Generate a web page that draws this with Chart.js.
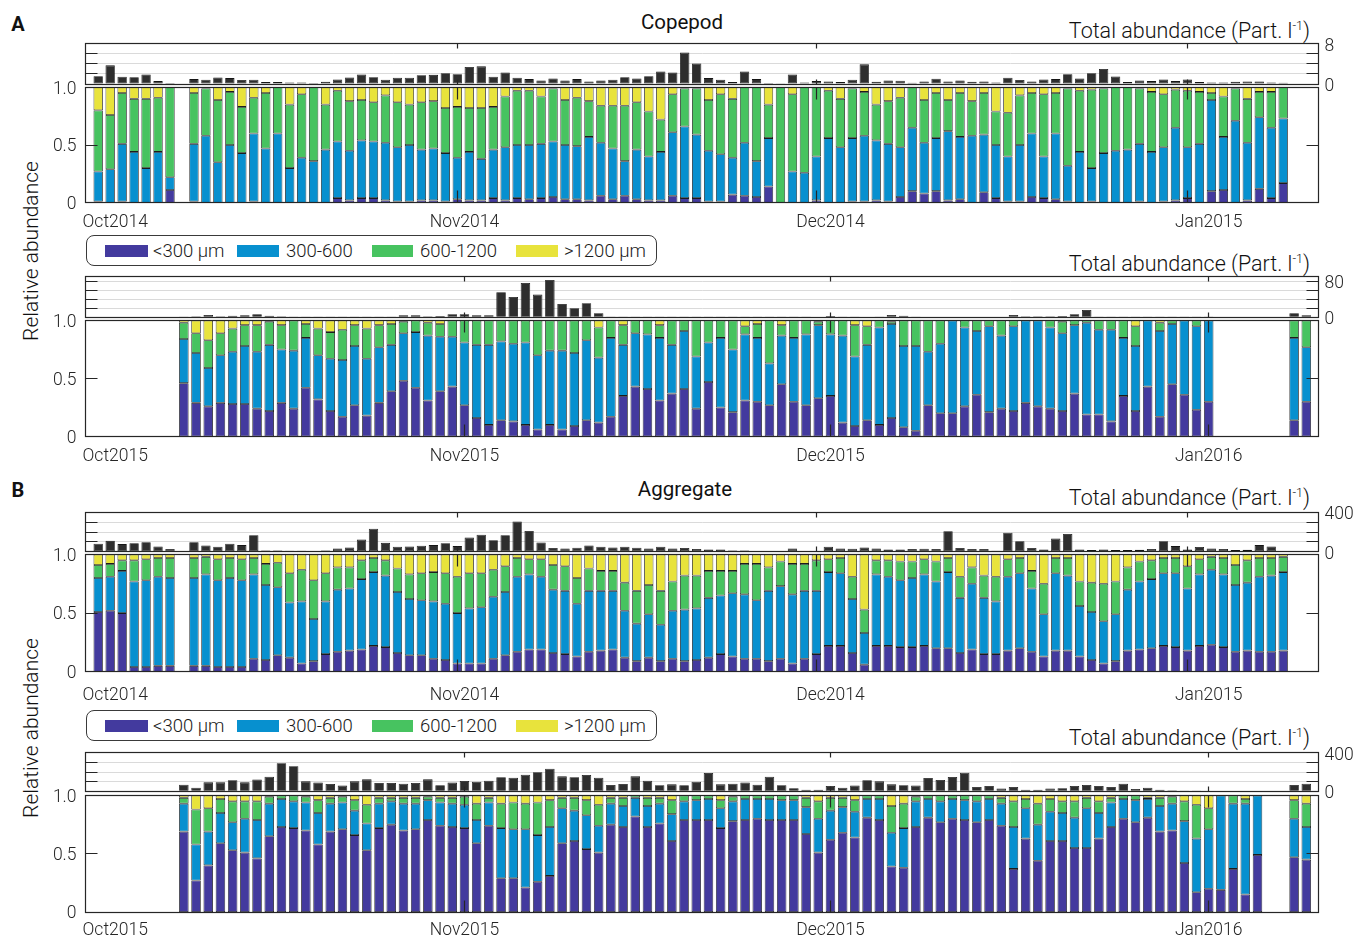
<!DOCTYPE html>
<html>
<head>
<meta charset="utf-8">
<title>Copepod and aggregate size structure</title>
<script src="https://cdn.jsdelivr.net/npm/chart.js@4.4.1/dist/chart.umd.min.js"></script>
<style>
  html, body { margin: 0; padding: 0; background: #fff; }
  body { position: relative; width: 1356px; height: 936px; overflow: hidden; font-family: Roboto, "Noto Sans", sans-serif; color: #111; }
  canvas { position: absolute; left: 0; }
  .txt { position: absolute; white-space: nowrap; line-height: 1; }
  .panel-id { font-weight: 700; font-size: 20px; transform: translate(-50%, -50%); }
  .title { font-weight: 400; font-size: 20.5px; transform: translate(-50%, -50%); }
  .total-lbl { font-weight: 300; font-size: 21.5px; transform: translateY(-50%); right: 46px; }
  .total-lbl sup { font-size: 12.5px; vertical-align: 8px; line-height: 0; }
  .ylab { font-weight: 300; font-size: 21px; transform: translate(-50%, -50%) rotate(-90deg); }
  .legend { position: absolute; border: 1px solid #3a3a3a; border-radius: 8px; box-sizing: border-box; background: #fff; }
  .legend .sw { position: absolute; height: 12px; }
  .legend .lt { position: absolute; font-weight: 300; font-size: 18.5px; line-height: 1; white-space: nowrap; transform: translateY(-50%); color: #1a1a1a; }
</style>
</head>
<body>
<div class="txt panel-id" style="left:18px;top:24px">A</div>
<div class="txt title" style="left:682px;top:22px">Copepod</div>
<div class="txt total-lbl" style="top:30.5px">Total abundance (Part. l<sup>-1</sup>)</div>
<div class="txt total-lbl" style="top:263.5px">Total abundance (Part. l<sup>-1</sup>)</div>
<div class="txt ylab" style="left:31px;top:251px">Relative abundance</div>

<div class="txt panel-id" style="left:18px;top:490px">B</div>
<div class="txt title" style="left:685px;top:489px">Aggregate</div>
<div class="txt total-lbl" style="top:497.5px">Total abundance (Part. l<sup>-1</sup>)</div>
<div class="txt total-lbl" style="top:737.5px">Total abundance (Part. l<sup>-1</sup>)</div>
<div class="txt ylab" style="left:31px;top:728px">Relative abundance</div>

<script>
// ---------- categories ----------
const sizeClasses = ['<300 µm', '300-600', '600-1200', '>1200 µm'];
const monthDays = [0, 31, 61, 92];          // Oct 1, Nov 1, Dec 1, Jan 1 (days since Oct 1)
const months2014 = ['Oct2014', 'Nov2014', 'Dec2014', 'Jan2015'];
const months2015 = ['Oct2015', 'Nov2015', 'Dec2015', 'Jan2016'];

// sampling days (days since Oct 1)
const sampleDays2014 = [1,2,3,4,5,6,7,
  9,10,11,12,13,14,15,16,17,18,19,20,
  21,22,23,24,25,26,27,28,29,30,
  31,32,33,34,35,36,37,38,39,40,
  41,42,43,44,45,46,47,48,49,50,
  51,52,53,54,55,56,57,58,59,60,
  61,62,63,64,65,66,67,68,69,70,
  71,72,73,74,75,76,77,78,79,80,
  81,82,83,84,85,86,87,88,89,90,
  91,92,93,94,95,96,97,98,99,100];
const copDays2015 = [8,9,10,11,12,13,14,15,16,17,18,19,20,
  21,22,23,24,25,26,27,28,29,30,
  31,32,33,34,35,36,37,38,39,40,
  41,42,43,44,45,46,47,48,49,50,
  51,52,53,54,55,56,57,58,59,60,
  61,62,63,64,65,66,67,68,69,70,
  71,72,73,74,75,76,77,78,79,80,
  81,82,83,84,85,86,87,88,89,90,
  91,92,99,100];
const aggDays2015 = [8,9,10,11,12,13,14,15,16,17,18,19,20,
  21,22,23,24,25,26,27,28,29,30,
  31,32,33,34,35,36,37,38,39,40,
  41,42,43,44,45,46,47,48,49,50,
  51,52,53,54,55,56,57,58,59,60,
  61,62,63,64,65,66,67,68,69,70,
  71,72,73,74,75,76,77,78,79,80,
  81,82,83,84,85,86,87,88,89,90,
  91,92,93,94,95,96,99,100];

// ---------- Copepod 2014 ----------
const copLt300_2014 = [.01,0,.01,0,0,0,.11,
  .01,0,0,0,0,.01,0,0,0,0,0,0,
  .04,.02,.04,.04,.02,.01,.01,.02,.02,.01,
  .03,.02,.02,.04,.02,.04,.03,.04,.05,.03,
  .03,.02,.06,.03,.06,.03,.02,.02,.06,.04,
  .04,.01,.01,.07,.06,.05,.14,0,0,0,
  .02,0,0,.01,.01,.02,.01,.05,.10,.08,
  .10,.02,.03,0,.09,.04,.01,.01,.05,.04,
  .03,.01,0,.01,0,0,0,.01,0,.01,
  .02,.04,0,.10,.11,0,.02,.12,.04,.17];
const cop300_600_2014 = [.26,.29,.50,.44,.30,.44,.11,
  .50,.58,.35,.50,.43,.59,.47,.60,.30,.39,.36,.46,
  .49,.43,.50,.49,.50,.47,.49,.44,.45,.42,
  .36,.42,.36,.42,.46,.46,.47,.47,.48,.47,
  .46,.55,.46,.44,.30,.43,.38,.42,.55,.62,
  .55,.44,.41,.32,.46,.31,.42,0,.27,.26,
  .38,.56,.48,.55,.57,.52,.50,.43,.55,.44,
  .46,.60,.54,.58,.50,.46,.39,.49,.55,.36,
  .57,.31,.44,.29,.43,.45,.46,.50,.44,.47,
  .63,.44,.51,.79,.46,.71,.50,.62,.61,.56];
const cop600_1200_2014 = [.53,.47,.44,.46,.60,.47,.78,
  .44,.41,.54,.46,.40,.31,.48,.40,.55,.55,.64,.39,
  .44,.43,.35,.34,.41,.39,.35,.41,.41,.39,
  .44,.38,.44,.37,.44,.47,.47,.41,.46,.39,
  .42,.31,.32,.37,.48,.41,.39,.28,.33,.33,
  .40,.44,.52,.51,.48,.64,.29,1,.67,.74,
  .60,.41,.42,.43,.38,.31,.37,.43,.35,.37,
  .39,.27,.38,.30,.36,.29,.38,.43,.35,.54,
  .35,.67,.53,.68,.56,.55,.54,.48,.52,.46,
  .33,.49,.45,.06,.35,.28,.38,.22,.31,.27];
const copGt1200_2014 = [.20,.24,.05,.10,.10,.09,0,
  .05,.01,.11,.04,.17,.09,.05,0,.15,.06,0,.15,
  .03,.12,.11,.13,.07,.13,.15,.13,.12,.18,
  .17,.18,.18,.17,.08,.03,.03,.08,.01,.11,
  .09,.12,.16,.16,.16,.13,.21,.28,.06,.01,
  .01,.11,.06,.10,0,0,.15,0,.06,0,
  0,.03,.10,.01,.04,.15,.12,.09,0,.11,
  .05,.11,.05,.12,.05,.21,.22,.07,.05,.06,
  .05,.01,.03,.02,.01,0,0,.01,.04,.06,
  .02,.03,.04,.05,.08,.01,.10,.04,.04,0];
const copTotal2014 = [1.56,3.7,1.43,1.36,1.88,.58,.2,
  .97,.84,1.3,1.17,.78,.84,.39,.39,.32,.32,.2,.45,
  .9,1.3,1.88,1.36,.84,1.23,1.23,1.75,1.82,2.14,
  1.95,3.38,3.5,1.43,2.27,1.23,.97,.71,1.1,.71,
  .97,.52,.71,.84,1.36,1.1,1.56,2.47,2.27,6.23,
  4.09,1.17,.84,.39,2.47,.97,.2,.13,1.88,.32,
  .58,.52,.39,.84,3.9,.45,.71,.65,.26,.52,
  1.04,.52,.71,.45,.52,.32,1.23,.78,.52,.9,
  .97,1.95,1.1,2.14,2.99,1.49,.39,.71,.58,.9,
  .58,.9,.39,.32,.32,.45,.52,.52,.32,.26];

// ---------- Copepod 2015 ----------
const copLt300_2015 = [.46,.29,.26,.29,.28,.28,.24,.22,.29,.24,.42,.32,.22,
  .17,.27,.18,.29,.39,.48,.42,.31,.39,.43,
  .27,.16,.10,.14,.13,.10,.06,.10,.06,.09,
  .14,.12,.17,.35,.43,.41,.31,.37,.41,.24,
  .47,.25,.21,.31,.30,.27,.45,.30,.27,.33,
  .35,.12,.09,.14,.10,.16,.08,.05,.27,.20,
  .20,.26,.36,.21,.24,.22,.29,.26,.24,.22,
  .37,.19,.19,.13,.35,.22,.43,.17,.45,.36,
  .23,.30,.14,.30];
const cop300_600_2015 = [.38,.43,.33,.41,.45,.50,.49,.57,.46,.50,.43,.38,.45,
  .49,.51,.49,.48,.40,.41,.48,.56,.47,.43,
  .54,.63,.69,.68,.67,.71,.64,.64,.68,.63,
  .69,.56,.68,.44,.46,.47,.54,.42,.50,.45,
  .34,.60,.54,.57,.55,.36,.42,.55,.61,.63,
  .53,.75,.60,.65,.84,.81,.70,.73,.46,.60,
  .80,.68,.55,.74,.63,.73,.71,.74,.70,.67,
  .59,.79,.73,.79,.50,.56,.57,.74,.52,.64,
  .72,.70,.71,.47];
const cop600_1200_2015 = [.14,.17,.24,.19,.20,.18,.23,.20,.21,.26,.12,.23,.23,
  .26,.18,.26,.19,.18,.10,.10,.11,.11,.14,
  .19,.21,.21,.18,.20,.19,.30,.26,.26,.28,
  .17,.26,.15,.17,.11,.12,.11,.21,.09,.31,
  .19,.15,.25,.07,.12,.37,.09,.15,.12,.03,
  .12,.13,.27,.16,.06,.02,.22,.22,.27,.20,
  0,.06,.09,.05,.13,.05,0,0,.06,.10,
  .04,.02,.08,.08,.15,.17,0,.07,.03,0,
  .05,0,.15,.23];
const copGt1200_2015 = [.02,.11,.17,.11,.07,.04,.04,.01,.04,0,.03,.07,.10,
  .08,.04,.07,.04,.03,.01,0,.02,.03,0,
  0,0,0,0,0,0,0,0,0,0,
  0,.06,0,.04,0,0,.04,0,0,0,
  0,0,0,.05,.03,0,.04,0,0,.01,
  0,0,.04,.05,0,.01,0,0,0,0,
  0,0,0,0,0,0,0,0,0,.01,
  0,0,0,0,0,.05,0,.02,0,0,
  0,0,0,0];
const copTotal2015 = [.5,2.2,5.2,2.2,3.7,4.4,6.7,3.7,2.2,1.5,1.5,1.5,1.5,
  1.5,1.5,1.5,1.5,1.5,4.4,4.4,2.2,3,6.7,
  6.7,4.4,4.4,55.6,45.2,76.3,50.4,83,29.6,20,
  31.1,8.9,1.5,1.5,.5,1.5,1.5,1.5,1.5,1.5,
  .5,.5,.5,.5,.5,.5,.5,.5,.5,1,
  3,1.5,1.5,1,.7,5.2,3.7,1.5,1,1,
  1,1,1,1,1,5.2,2.2,2.2,2.2,3,
  6.7,16.3,1.5,1.5,.5,.5,.5,.5,.5,.5,
  .5,.5,8.9,4.4];

// ---------- Aggregate 2014 ----------
const aggLt300_2014 = [.51,.52,.50,.04,.04,.05,.05,
  .05,.05,.04,.04,.04,.11,.10,.14,.12,.07,.09,.15,
  .17,.18,.19,.22,.21,.16,.14,.14,.11,.10,
  .07,.07,.07,.11,.14,.17,.19,.19,.16,.15,
  .13,.17,.18,.19,.12,.09,.12,.09,.11,.09,
  .10,.12,.15,.13,.11,.11,.09,.11,.07,.11,
  .15,.22,.22,.16,.06,.22,.22,.21,.21,.22,
  .20,.20,.16,.19,.15,.15,.18,.20,.17,.13,
  .18,.18,.13,.10,.07,.09,.18,.19,.20,.22,
  .21,.18,.22,.23,.21,.17,.18,.17,.17,.18];
const agg300_600_2014 = [.29,.29,.36,.73,.74,.76,.75,
  .75,.78,.74,.76,.74,.72,.64,.58,.47,.53,.36,.45,
  .53,.53,.60,.63,.61,.52,.48,.47,.49,.48,
  .43,.47,.48,.53,.54,.64,.64,.62,.54,.54,
  .45,.52,.51,.50,.40,.32,.37,.31,.41,.44,
  .44,.51,.50,.54,.55,.50,.60,.62,.59,.58,
  .54,.63,.62,.46,.27,.61,.59,.57,.59,.61,
  .57,.65,.47,.56,.48,.45,.63,.64,.54,.36,
  .66,.64,.43,.41,.36,.40,.52,.58,.59,.62,
  .63,.53,.61,.64,.62,.57,.58,.64,.65,.67];
const agg600_1200_2014 = [.11,.11,.09,.18,.18,.16,.17,
  .17,.15,.18,.17,.18,.14,.18,.21,.25,.27,.33,.24,
  .19,.18,.16,.12,.13,.20,.21,.23,.25,.26,
  .31,.30,.29,.23,.22,.16,.13,.15,.21,.21,
  .22,.19,.17,.17,.24,.28,.25,.29,.25,.29,
  .28,.23,.21,.19,.26,.31,.20,.21,.26,.23,
  .26,.11,.13,.19,.20,.12,.14,.16,.14,.13,
  .17,.12,.18,.14,.19,.21,.15,.13,.15,.26,
  .13,.15,.21,.25,.32,.28,.19,.17,.16,.13,
  .13,.19,.13,.11,.14,.17,.19,.16,.15,.13];
const aggGt1200_2014 = [.09,.08,.05,.05,.04,.03,.03,
  .03,.02,.04,.03,.04,.03,.08,.07,.16,.13,.22,.16,
  .11,.11,.05,.03,.05,.12,.17,.16,.15,.16,
  .19,.16,.16,.13,.10,.03,.04,.04,.09,.10,
  .20,.12,.14,.14,.24,.31,.26,.31,.23,.18,
  .18,.14,.14,.14,.08,.08,.11,.06,.08,.08,
  .05,.04,.03,.19,.47,.05,.05,.06,.06,.04,
  .06,.03,.19,.11,.18,.19,.04,.03,.14,.25,
  .03,.03,.23,.24,.25,.23,.11,.06,.05,.03,
  .03,.10,.04,.02,.03,.09,.05,.03,.03,.02];
const aggTotal2014 = [80,110,77,87,97,53,27,
  97,63,50,80,67,167,13,13,10,10,2,13,
  33,43,123,233,90,50,53,60,67,87,
  57,143,173,117,167,307,210,93,37,33,
  40,63,50,43,50,40,33,50,33,37,
  27,23,23,13,13,7,2,1,33,2,
  2,50,33,30,43,33,23,23,27,30,
  27,207,37,27,27,10,193,107,37,23,
  133,180,23,17,23,17,17,20,27,107,
  57,23,47,33,27,17,20,67,53,7];

// ---------- Aggregate 2015 ----------
const aggLt300_2015 = [.69,.27,.40,.59,.53,.51,.46,.65,.73,.72,.70,.58,.69,
  .71,.66,.53,.72,.75,.70,.71,.79,.74,.73,
  .72,.59,.74,.29,.29,.21,.26,.31,.59,.61,
  .54,.51,.75,.73,.82,.73,.76,.61,.79,.79,
  .79,.72,.78,.79,.80,.79,.79,.79,.67,.51,
  .62,.68,.64,.81,.79,.39,.38,.73,.81,.77,
  .80,.79,.77,.79,.74,.37,.63,.44,.61,.61,
  .55,.55,.63,.73,.80,.77,.81,.69,.70,.42,
  .17,.20,.19,.37,.15,.49,
  .47,.45];
const agg300_600_2015 = [.24,.31,.29,.26,.24,.29,.33,.28,.24,.23,.24,.27,.24,
  .23,.21,.23,.21,.20,.23,.22,.17,.20,.20,
  .20,.20,.20,.43,.42,.50,.40,.42,.30,.26,
  .29,.23,.18,.18,.16,.18,.17,.23,.16,.17,
  .18,.17,.17,.18,.17,.18,.17,.17,.23,.29,
  .25,.22,.22,.16,.18,.29,.34,.22,.16,.18,
  .17,.17,.18,.18,.19,.36,.26,.31,.25,.24,
  .26,.34,.22,.21,.17,.19,.16,.22,.23,.36,
  .46,.51,.81,.56,.78,.51,
  .33,.28];
const agg600_1200_2015 = [.05,.30,.20,.12,.18,.15,.16,.06,.03,.05,.05,.11,.05,
  .05,.09,.16,.05,.03,.05,.05,.03,.04,.05,
  .07,.14,.04,.21,.23,.22,.28,.23,.09,.11,
  .13,.18,.05,.07,.02,.07,.05,.12,.05,.04,
  .03,.07,.04,.03,.03,.03,.04,.04,.08,.15,
  .11,.08,.10,.03,.03,.23,.21,.04,.03,.05,
  .03,.04,.05,.03,.05,.22,.08,.18,.11,.10,
  .14,.09,.10,.04,.03,.04,.01,.07,.06,.17,
  .29,.18,0,.07,.04,0,
  .16,.20];
const aggGt1200_2015 = [.02,.12,.11,.03,.05,.05,.05,.01,0,0,.01,.04,.02,
  .01,.04,.08,.02,.02,.02,.02,.01,.02,.02,
  .01,.07,.02,.07,.06,.07,.06,.04,.02,.02,
  .04,.08,.02,.02,0,.02,.02,.04,0,0,
  0,.04,.01,0,0,0,0,0,.02,.05,
  .02,.02,.04,0,0,.09,.07,.01,0,0,
  0,0,0,0,.02,.05,.03,.07,.03,.05,
  .05,.02,.05,.02,0,0,.02,.02,.01,.05,
  .08,.11,0,0,.03,0,
  .04,.07];
const aggTotal2015 = [69,38,93,93,114,93,121,152,290,259,103,90,76,
  59,103,124,86,86,79,86,124,62,90,
  107,100,110,145,141,172,197,234,155,145,
  169,141,66,76,155,110,62,72,62,100,
  190,72,79,90,69,152,62,31,17,17,
  55,38,59,114,103,72,62,59,138,117,
  148,193,45,55,28,45,17,17,28,31,
  55,66,55,45,79,24,38,17,10,3,
  1,0,0,0,0,0,
  66,79];

// ---------- styling / layout ----------
const COLORS = ['#433A9E', '#0790CF', '#47C360', '#E8E33C'];
const TOTAL_COLOR = '#2E2E2E';
const AXIS = '#262626';
const PAGE_W = 1356, PLOT_LEFT = 85.5, PLOT_RIGHT = 1318.5, X_MIN = -0.06;
const MARGIN = 28;   // canvas room around each plot box for tick labels
const TICK_FONT = { family: 'Roboto', size: 17.5, weight: '300' };

Chart.defaults.font.family = 'Roboto';

// box outline, inward MATLAB-style tick marks and month labels
const frame = {
  id: 'frame',
  afterDraw(chart, args, o) {
    const { ctx, chartArea: a } = chart;
    const crisp = v => Math.round(v - 0.5) + 0.5;
    const L = crisp(a.left), R = crisp(a.right), T = crisp(a.top), B = crisp(a.bottom);
    ctx.save();
    ctx.strokeStyle = AXIS;
    ctx.lineWidth = 1.2;
    ctx.strokeRect(L, T, R - L, B - T);
    ctx.beginPath();
    const xs = chart.scales.x;
    for (const d of o.xTicks) {
      const px = crisp(xs.getPixelForValue(d));
      ctx.moveTo(px, T); ctx.lineTo(px, T + o.xLen);
      ctx.moveTo(px, B); ctx.lineTo(px, B - o.xLen);
    }
    const ys = chart.scales.y;
    for (const t of ys.ticks) {
      if (t.value <= ys.min || t.value >= ys.max) continue;
      const py = crisp(ys.getPixelForValue(t.value));
      ctx.moveTo(L, py); ctx.lineTo(L + o.yLen, py);
      ctx.moveTo(R, py); ctx.lineTo(R - o.yLen, py);
    }
    ctx.stroke();
    if (o.months) {
      const xl = chart.scales.xl;
      ctx.fillStyle = AXIS;
      ctx.font = '300 17.5px Roboto';
      ctx.textBaseline = 'middle';
      const y = a.bottom + o.monthOffset;
      o.months.forEach((m, i) => {
        if (i === 0) { ctx.textAlign = 'left'; ctx.fillText(m, a.left - 3, y); }
        else { ctx.textAlign = 'center'; ctx.fillText(m, xl.getPixelForValue(monthDays[i]), y); }
      });
    }
    ctx.restore();
  }
};

function addCanvas(top, height) {
  const c = document.createElement('canvas');
  c.width = PAGE_W; c.height = height;
  c.style.top = top + 'px';
  document.body.appendChild(c);
  return c;
}

function relativeChart(p) {
  const cTop = Math.floor(p.relTop) - MARGIN;
  const h = Math.ceil(p.relBottom) + 36 - cTop;
  const canvas = addCanvas(cTop, h);
  const series = [p.lt300, p.m300, p.m600, p.gt1200];
  new Chart(canvas, {
    type: 'bar',
    data: {
      datasets: series.map((vals, k) => ({
        label: sizeClasses[k],
        data: p.days.map((d, i) => ({ x: d, y: vals[i] })),
        backgroundColor: COLORS[k],
        borderColor: '#1c1c1c',
        borderWidth: 0.8,
        borderSkipped: false,
        barPercentage: 0.78,
        categoryPercentage: 1,
        xAxisID: 'x', yAxisID: 'y'
      }))
    },
    options: {
      responsive: false, animation: false, events: [],
      layout: { padding: { top: p.relTop - cTop, bottom: h - (p.relBottom - cTop), left: 0, right: PAGE_W - PLOT_RIGHT } },
      plugins: {
        legend: { display: false }, tooltip: { enabled: false },
        frame: { xTicks: monthDays.slice(1), xLen: 12, yLen: 12, months: p.months, monthOffset: p.monthOffset }
      },
      scales: {
        x: { type: 'linear', min: X_MIN, max: p.xMax, stacked: true, offset: false, display: false },
        xl: { type: 'linear', axis: 'x', min: X_MIN, max: 101, offset: false, display: false },
        y: {
          type: 'linear', position: 'left', min: 0, max: 1, stacked: true,
          ticks: { stepSize: 0.5, padding: 9, labelOffset: 2, autoSkip: false, color: AXIS, font: TICK_FONT,
                   callback: v => (v === 0 ? '0' : v.toFixed(1)) },
          grid: { display: false, drawTicks: false }, border: { display: false },
          afterFit(s) { s.width = PLOT_LEFT; }
        }
      }
    },
    plugins: [frame]
  });
}

function totalChart(p) {
  const cTop = Math.floor(p.totTop) - MARGIN;
  const h = Math.ceil(p.totBottom) + MARGIN - cTop;
  const canvas = addCanvas(cTop, h);
  new Chart(canvas, {
    type: 'bar',
    data: {
      datasets: [{
        label: 'Total abundance',
        data: p.days.map((d, i) => ({ x: d, y: p.total[i] })),
        backgroundColor: TOTAL_COLOR,
        borderColor: '#151515',
        borderWidth: 0.8,
        borderSkipped: false,
        barPercentage: 0.78,
        categoryPercentage: 1
      }]
    },
    options: {
      responsive: false, animation: false, events: [],
      layout: { padding: { top: p.totTop - cTop, bottom: h - (p.totBottom - cTop), left: PLOT_LEFT, right: 0 } },
      plugins: {
        legend: { display: false }, tooltip: { enabled: false },
        frame: { xTicks: monthDays.slice(1), xLen: 5, yLen: 12 }
      },
      scales: {
        x: { type: 'linear', min: X_MIN, max: p.xMax, offset: false, display: false },
        y: {
          type: 'linear', position: 'right', min: 0, max: p.totMax,
          ticks: { stepSize: p.totStep, includeBounds: false, autoSkip: false, padding: 6, labelOffset: 2.5,
                   color: AXIS, font: TICK_FONT,
                   callback: v => (v === 0 || v === p.totLabelTop ? String(v) : '') },
          grid: { color: '#DADADA', lineWidth: 1, drawTicks: false }, border: { display: false },
          afterFit(s) { s.width = PAGE_W - PLOT_RIGHT; }
        }
      }
    },
    plugins: [frame]
  });
}

function legendBox(top) {
  const box = document.createElement('div');
  box.className = 'legend';
  Object.assign(box.style, { left: '86px', top: top + 'px', width: '571px', height: '31px' });
  const swatchX = [18, 150, 285, 429], swatchW = [43, 42, 41, 42], textX = [66, 199, 333, 477];
  sizeClasses.forEach((name, k) => {
    const sw = document.createElement('div');
    sw.className = 'sw';
    Object.assign(sw.style, { left: swatchX[k] + 'px', top: '8.5px', width: swatchW[k] + 'px', background: COLORS[k] });
    const t = document.createElement('div');
    t.className = 'lt';
    t.textContent = name;
    Object.assign(t.style, { left: textX[k] + 'px', top: '15px' });
    box.appendChild(sw); box.appendChild(t);
  });
  document.body.appendChild(box);
}

const panels = [
  { days: sampleDays2014, lt300: copLt300_2014, m300: cop300_600_2014, m600: cop600_1200_2014, gt1200: copGt1200_2014,
    total: copTotal2014, months: months2014, xMax: 102.95, totMax: 8, totStep: 2, totLabelTop: 8,
    totTop: 43.7, totBottom: 84, relTop: 87.3, relBottom: 202.7, monthOffset: 19.5 },
  { days: copDays2015, lt300: copLt300_2015, m300: cop300_600_2015, m600: cop600_1200_2015, gt1200: copGt1200_2015,
    total: copTotal2015, months: months2015, xMax: 101, totMax: 91, totStep: 20, totLabelTop: 80,
    totTop: 276.3, totBottom: 317.3, relTop: 320.5, relBottom: 436.5, monthOffset: 20 },
  { days: sampleDays2014, lt300: aggLt300_2014, m300: agg300_600_2014, m600: agg600_1200_2014, gt1200: aggGt1200_2014,
    total: aggTotal2014, months: months2014, xMax: 102.95, totMax: 400, totStep: 100, totLabelTop: 400,
    totTop: 512.3, totBottom: 551.7, relTop: 554.5, relBottom: 671.7, monthOffset: 23.5 },
  { days: aggDays2015, lt300: aggLt300_2015, m300: agg300_600_2015, m600: agg600_1200_2015, gt1200: aggGt1200_2015,
    total: aggTotal2015, months: months2015, xMax: 101, totMax: 400, totStep: 100, totLabelTop: 400,
    totTop: 752.7, totBottom: 791.3, relTop: 795.5, relBottom: 912, monthOffset: 18.5 }
];

panels.forEach(p => { totalChart(p); relativeChart(p); });
legendBox(235);
legendBox(710);
</script>
</body>
</html>
